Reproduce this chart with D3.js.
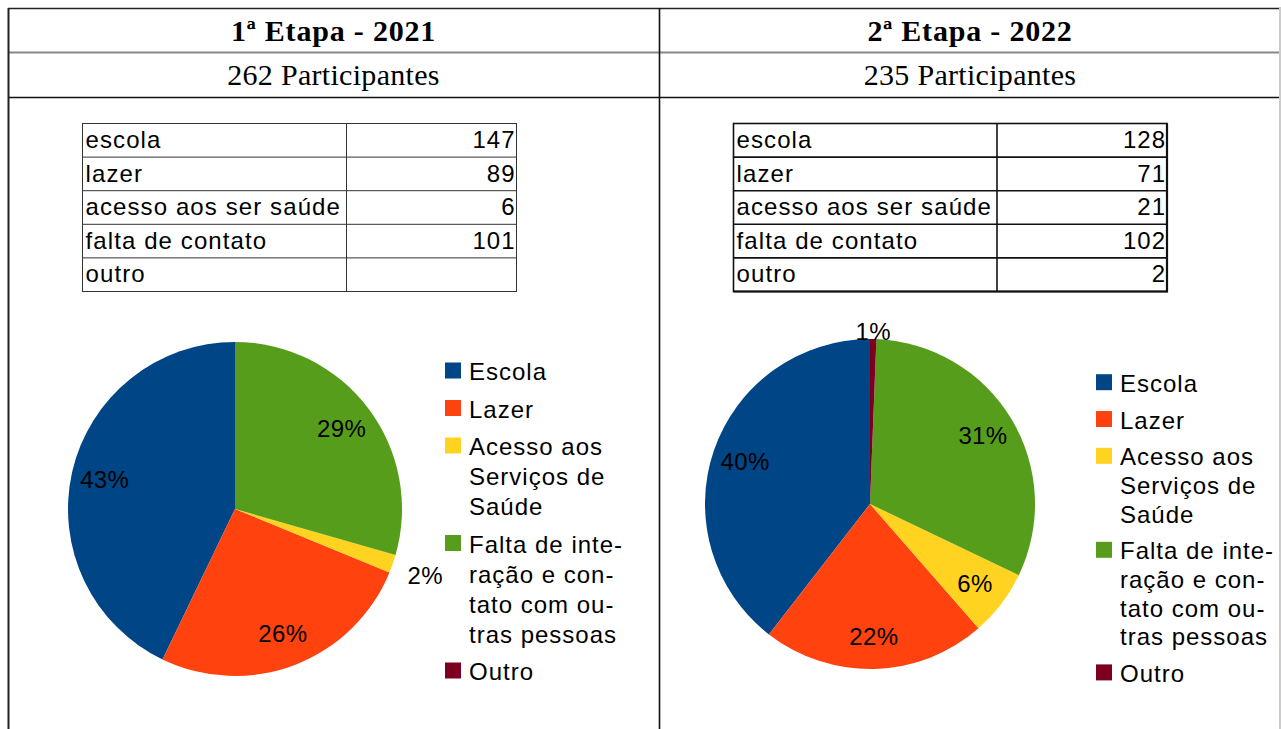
<!DOCTYPE html>
<html>
<head>
<meta charset="utf-8">
<script src="https://cdn.jsdelivr.net/npm/d3@7"></script>
<style>
  html, body { margin: 0; padding: 0; background: #fff; }
  svg { display: block; }
</style>
</head>
<body>
<svg id="chart" width="1281" height="729"></svg>
<script>
// ---- data ----
const titles = ["1ª Etapa - 2021", "2ª Etapa - 2022"];
const participants = [262, 235];
const tableLabels = ["escola", "lazer", "acesso aos ser saúde", "falta de contato", "outro"];
const legendLines = [
  ["Escola"],
  ["Lazer"],
  ["Acesso aos", "Serviços de", "Saúde"],
  ["Falta de inte-", "ração e con-", "tato com ou-", "tras pessoas"],
  ["Outro"]
];
const values2021 = [147, 89, 6, 101, null];
const values2022 = [128, 71, 21, 102, 2];
const sliceColors = ["#004586", "#ff420e", "#ffd320", "#579d1c", "#7e0021"];

// ---- layout ----
const panels = [
  {
    values: values2021, title: titles[0], count: participants[0],
    colX: 8, colW: 651,
    table: { x0: 82.5, xm: 346.5, x1: 516.5, y0: 123.5, rowH: 33.6, stroke: "#333", sw: 1, outerSw: 1 },
    pie: { cx: 235, cy: 509, r: 167 },
    legend: { x: 445, baseline0: 380, lineH: 30, gap: 7.5 }
  },
  {
    values: values2022, title: titles[1], count: participants[1],
    colX: 659, colW: 622,
    table: { x0: 733.5, xm: 997, x1: 1167, y0: 123.5, rowH: 33.6, stroke: "#111", sw: 1.6, outerSw: 2.2 },
    pie: { cx: 870, cy: 504, r: 165 },
    legend: { x: 1096, baseline0: 391.7, lineH: 28.6, gap: 8.2 }
  }
];

const svg = d3.select("#chart");
const sans = "'Liberation Sans', Arial, sans-serif";
const serif = "'Liberation Serif', 'Times New Roman', serif";

// ---- outer frame ----
const frame = svg.append("g").attr("class", "frame");
frame.append("line").attr("x1", 8).attr("x2", 1281).attr("y1", 8.5).attr("y2", 8.5)
  .attr("stroke", "#222").attr("stroke-width", 1.6);
frame.append("line").attr("x1", 8).attr("x2", 1281).attr("y1", 52.5).attr("y2", 52.5)
  .attr("stroke", "#888").attr("stroke-width", 2);
frame.append("line").attr("x1", 8).attr("x2", 1281).attr("y1", 97.5).attr("y2", 97.5)
  .attr("stroke", "#111").attr("stroke-width", 1.6);
frame.append("line").attr("x1", 8.5).attr("x2", 8.5).attr("y1", 8).attr("y2", 729)
  .attr("stroke", "#222").attr("stroke-width", 2);
frame.append("line").attr("x1", 659.5).attr("x2", 659.5).attr("y1", 8).attr("y2", 729)
  .attr("stroke", "#111").attr("stroke-width", 1.6);
frame.append("line").attr("x1", 1280).attr("x2", 1280).attr("y1", 8).attr("y2", 729)
  .attr("stroke", "#ccc").attr("stroke-width", 2);

const pct = d3.format(".0%");

panels.forEach(p => {
  const g = svg.append("g");
  const midX = p.colX + p.colW / 2;

  // header rows
  g.append("text").attr("x", midX).attr("y", 41)
    .attr("text-anchor", "middle")
    .style("font-family", serif).style("font-weight", "bold")
    .style("font-size", "30px").style("letter-spacing", "0.8px")
    .text(p.title);
  g.append("text").attr("x", midX).attr("y", 85)
    .attr("text-anchor", "middle")
    .style("font-family", serif).style("font-size", "30px")
    .style("letter-spacing", "0.3px")
    .text(`${p.count} Participantes`);

  // data table
  const t = p.table;
  const rowY = d3.scaleLinear().domain([0, tableLabels.length]).range([t.y0, t.y0 + t.rowH * tableLabels.length]);
  const tg = g.append("g");
  d3.range(1, tableLabels.length).forEach(i => {
    tg.append("line").attr("x1", t.x0).attr("x2", t.x1)
      .attr("y1", rowY(i)).attr("y2", rowY(i))
      .attr("stroke", t.stroke).attr("stroke-width", t.sw);
  });
  tg.append("line").attr("x1", t.xm).attr("x2", t.xm)
    .attr("y1", rowY(0)).attr("y2", rowY(tableLabels.length))
    .attr("stroke", t.stroke).attr("stroke-width", t.sw);
  tg.append("rect").attr("x", t.x0).attr("y", rowY(0))
    .attr("width", t.x1 - t.x0).attr("height", rowY(tableLabels.length) - rowY(0))
    .attr("fill", "none").attr("stroke", t.stroke).attr("stroke-width", t.sw);
  if (t.outerSw > t.sw) {
    tg.append("polyline")
      .attr("points", `${t.x1},${rowY(0)} ${t.x1},${rowY(tableLabels.length)} ${t.x0},${rowY(tableLabels.length)}`)
      .attr("fill", "none").attr("stroke", t.stroke).attr("stroke-width", t.outerSw);
  }
  tableLabels.forEach((lab, i) => {
    tg.append("text").attr("x", t.x0 + 3).attr("y", rowY(i) + 24.5)
      .style("font-family", sans).style("font-size", "24px").style("letter-spacing", "1.1px")
      .text(lab);
    const v = p.values[i];
    if (v != null) {
      tg.append("text").attr("x", t.x1 - 1).attr("y", rowY(i) + 24.5)
        .attr("text-anchor", "end")
        .style("font-family", sans).style("font-size", "24px").style("letter-spacing", "1px")
        .text(v);
    }
  });

  // pie (slices run anticlockwise from 12 o'clock)
  const pc = p.pie;
  const data = p.values.map((v, i) => ({ i, v: v || 0 }));
  const total = d3.sum(data, d => d.v);
  const arcs = d3.pie().sort(null).value(d => d.v)
    .startAngle(0).endAngle(-2 * Math.PI)(data);
  const arc = d3.arc().innerRadius(0).outerRadius(pc.r);
  const pg = g.append("g").attr("transform", `translate(${pc.cx},${pc.cy})`);
  pg.selectAll("path").data(arcs.filter(a => a.data.v > 0)).join("path")
    .attr("d", arc)
    .attr("fill", d => sliceColors[d.data.i]);

  // percentage labels: inside for larger slices, just outside the rim for thin ones
  arcs.filter(a => a.data.v > 0).forEach(a => {
    const share = a.data.v / total;
    const mid = (a.startAngle + a.endAngle) / 2;
    const sx = Math.sin(mid), cy = -Math.cos(mid);
    const label = pct(share);
    let x, y;
    if (share >= 0.03) {
      x = sx * pc.r * 0.8; y = cy * pc.r * 0.8;
    } else {
      const w = 36, h = 20;
      const d = pc.r - 3 + Math.abs(sx) * w + Math.abs(cy) * h / 2;
      x = sx * d; y = cy * d;
    }
    pg.append("text").attr("x", x).attr("y", y).attr("dy", "0.36em")
      .attr("text-anchor", "middle")
      .style("font-family", sans).style("font-size", "24px").style("letter-spacing", "0.4px")
      .text(label);
  });

  // legend
  const L = p.legend;
  const lg = g.append("g");
  let base = L.baseline0;
  legendLines.forEach((lines, i) => {
    lg.append("rect").attr("x", L.x).attr("y", base - 17.5)
      .attr("width", 16).attr("height", 16).attr("fill", sliceColors[i]);
    lines.forEach((ln, j) => {
      lg.append("text").attr("x", L.x + 24).attr("y", base + j * L.lineH)
        .style("font-family", sans).style("font-size", "24px").style("letter-spacing", "1px")
        .text(ln);
    });
    base += lines.length * L.lineH + L.gap;
  });
});
</script>
</body>
</html>
